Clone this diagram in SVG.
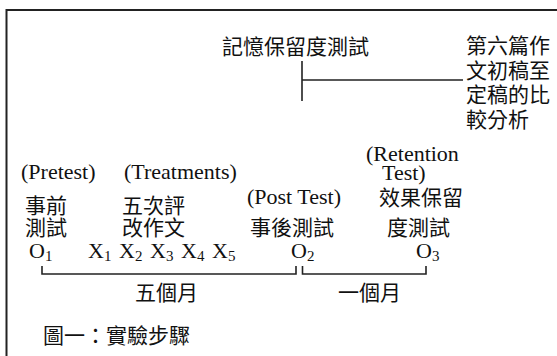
<svg xmlns="http://www.w3.org/2000/svg" width="557" height="356" viewBox="0 0 557 356">
<style>
.cjk{font-family:"Noto Sans CJK TC","Noto Sans CJK SC",sans-serif;font-size:21px;fill:#111}
.lat{font-family:"Liberation Serif","Times New Roman",serif;font-size:22px;fill:#111}
.sub{font-size:15px}
.ln{stroke:#222;stroke-width:1.6;fill:none}
.frame{stroke:#222;stroke-width:2;fill:none}
</style>
<rect width="557" height="356" fill="#fff"/>
<g id="frame"><path class="frame" d="M6.5,356 V10 H557"/></g>
<g id="connectors">
<path class="ln" d="M302,61 V101 M302,80 H463"/>
<path class="ln" d="M42,266 V274 H296 V266"/>
<path class="ln" d="M302.5,266 V274 H426 V266"/>
</g>
<g id="retention-test"><text class="cjk" x="222" y="54">記憶保留度測試</text></g>
<g id="comparison">
<text class="cjk" x="466" y="53">第六篇作</text>
<text class="cjk" x="466" y="77.5">文初稿至</text>
<text class="cjk" x="466" y="102">定稿的比</text>
<text class="cjk" x="466" y="126.5">較分析</text>
</g>
<g id="pretest">
<text class="lat" x="21" y="179">(Pretest)</text>
<text class="cjk" x="25" y="213">事前</text>
<text class="cjk" x="25" y="235">測試</text>
<text class="lat" x="29" y="258">O<tspan class="sub" dy="3">1</tspan></text>
</g>
<g id="treatments">
<text class="lat" x="124" y="179">(Treatments)</text>
<text class="cjk" x="122" y="213">五次評</text>
<text class="cjk" x="122" y="235">改作文</text>
<text class="lat" x="88" y="258">X<tspan class="sub" dy="3">1</tspan></text>
<text class="lat" x="119" y="258">X<tspan class="sub" dy="3">2</tspan></text>
<text class="lat" x="150" y="258">X<tspan class="sub" dy="3">3</tspan></text>
<text class="lat" x="181" y="258">X<tspan class="sub" dy="3">4</tspan></text>
<text class="lat" x="212" y="258">X<tspan class="sub" dy="3">5</tspan></text>
</g>
<g id="posttest">
<text class="lat" x="247" y="204">(Post Test)</text>
<text class="cjk" x="250" y="235">事後測試</text>
<text class="lat" x="291" y="258">O<tspan class="sub" dy="3">2</tspan></text>
</g>
<g id="retention">
<text class="lat" x="366" y="161">(Retention</text>
<text class="lat" x="382" y="180">Test)</text>
<text class="cjk" x="379" y="205">效果保留</text>
<text class="cjk" x="387" y="235">度測試</text>
<text class="lat" x="416" y="258">O<tspan class="sub" dy="3">3</tspan></text>
</g>
<g id="five-months"><text class="cjk" x="135" y="300">五個月</text></g>
<g id="one-month"><text class="cjk" x="338" y="300">一個月</text></g>
<g id="caption"><text class="cjk" x="43" y="343">圖一：實驗步驟</text></g>
</svg>
